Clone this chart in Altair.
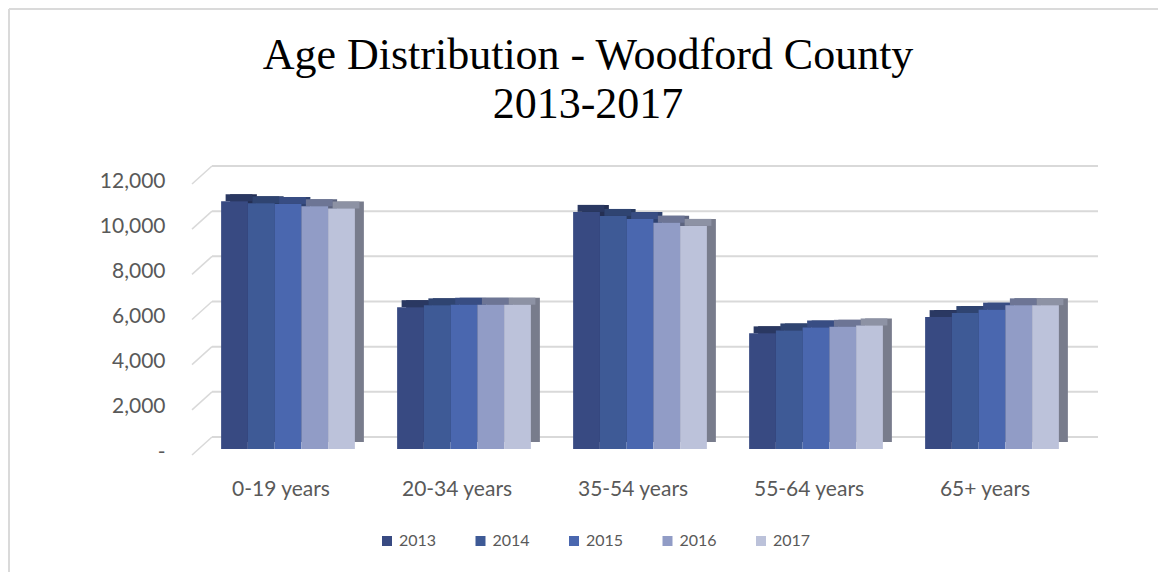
import altair as alt
import pandas as pd

categories = ["0-19 years", "20-34 years", "35-54 years", "55-64 years", "65+ years"]
years = ["2013", "2014", "2015", "2016", "2017"]
v2013 = [10970, 6280, 10500, 5120, 5840]
v2014 = [10880, 6360, 10320, 5250, 6020]
v2015 = [10850, 6390, 10180, 5380, 6170]
v2016 = [10750, 6390, 10020, 5410, 6360]
v2017 = [10650, 6390, 9880, 5470, 6370]
grid_ticks = [0, 2000, 4000, 6000, 8000, 10000, 12000]

front_colors = ["#384A82", "#3E5A96", "#4A67AF", "#919CC6", "#BCC2DA"]
top_colors = ["#2A3862", "#2F4471", "#384D83", "#6D7595", "#8D92A4"]
side_colors = ["#242F53", "#283A60", "#2F4270", "#5D647F", "#787C8C"]

series = {"2013": v2013, "2014": v2014, "2015": v2015, "2016": v2016, "2017": v2017}
rows = [{"age": c, "year": y, "pop": series[y][i]} for y in years for i, c in enumerate(categories)]
df = pd.DataFrame(rows)
grid_df = pd.DataFrame({"tick": grid_ticks})

W, H = 880, 271
BW = 133.76
TXT = "#595959"
GRID = "#D9D9D9"

x_scale = alt.Scale(paddingInner=0.24, paddingOuter=0.12)
y_scale = alt.Scale(domain=[0, 12000], nice=False)

x_axis = alt.Axis(title=None, labelFont="Lato", labelFontSize=21, labelColor=TXT,
                  labelPadding=29, labelOffset=-7, ticks=False, domain=False,
                  grid=False, labelAngle=0)
y_axis = alt.Axis(title=None, values=grid_ticks,
                  labelExpr="datum.value == 0 ? '-' : format(datum.value, ',')",
                  labelFont="Lato", labelFontSize=21, labelColor=TXT,
                  labelPadding=35, labelOffset=3, ticks=False, domain=False, grid=False)

frame_data = alt.Data(values=[{"k": 1}])
border_top = alt.Chart(frame_data).mark_rule(color="#DADADA", strokeWidth=2).encode(
    x=alt.value(-191), x2=alt.value(958), y=alt.value(-169))
border_left = alt.Chart(frame_data).mark_rule(color="#DADADA", strokeWidth=2).encode(
    x=alt.value(-191), y=alt.value(-169), y2=alt.value(394))

grid = alt.Chart(grid_df).mark_rule(color=GRID, strokeWidth=2, yOffset=-12).encode(
    y=alt.Y("tick:Q", scale=y_scale, axis=y_axis),
    x=alt.value(12), x2=alt.value(898))
diag = alt.Chart(grid_df).mark_rule(color=GRID, strokeWidth=1.5, yOffset=6, y2Offset=-12).encode(
    y=alt.Y("tick:Q", scale=y_scale, axis=y_axis), y2=alt.Y2("tick:Q"),
    x=alt.value(-8), x2=alt.value(12))

x_enc = alt.X("age:N", sort=categories, scale=x_scale, axis=x_axis)
y_enc = alt.Y("pop:Q", scale=y_scale, axis=y_axis)

sides = alt.Chart(df).mark_bar(yOffset=-7, y2Offset=-4).encode(
    x=x_enc,
    xOffset=alt.XOffset("year:N", sort=years, scale=alt.Scale(range=[9, 9 + BW])),
    y=y_enc,
    color=alt.Color("year:N", sort=years, scale=alt.Scale(domain=years, range=side_colors), legend=None))

tops = alt.Chart(df).mark_bar(yOffset=-7, y2Offset=0).encode(
    x=x_enc,
    xOffset=alt.XOffset("year:N", sort=years, scale=alt.Scale(range=[4.5, 4.5 + BW])),
    y=y_enc,
    y2=alt.Y2("pop:Q"),
    color=alt.Color("year:N", sort=years, scale=alt.Scale(domain=years, range=top_colors), legend=None))

fronts = alt.Chart(df).mark_bar().encode(
    x=x_enc,
    xOffset=alt.XOffset("year:N", sort=years, scale=alt.Scale(range=[0, BW])),
    y=y_enc,
    color=alt.Color("year:N", sort=years,
                    scale=alt.Scale(domain=years, range=front_colors),
                    legend=alt.Legend(title=None, orient="none", legendX=179, legendY=355,
                                      direction="horizontal", symbolType="square",
                                      symbolSize=100, symbolStrokeWidth=0,
                                      labelFont="Lato", labelFontSize=16, labelColor=TXT,
                                      columnPadding=35.5, labelOffset=4, padding=0)))

chart = alt.layer(border_top, border_left, grid, diag, sides, tops, fronts).resolve_scale(
    color="independent", xOffset="independent"
).properties(
    width=W, height=H, padding=0,
    title=alt.TitleParams(text=["Age Distribution - Woodford County", "2013-2017"],
                          font="Liberation Serif", fontSize=44, fontWeight="normal",
                          color="#000000", lineHeight=49, anchor="middle", frame="group",
                          dx=-52, offset=-119)
).configure_view(stroke=None)

chart.save("out.html", embed_options={"renderer": "svg", "actions": False})
